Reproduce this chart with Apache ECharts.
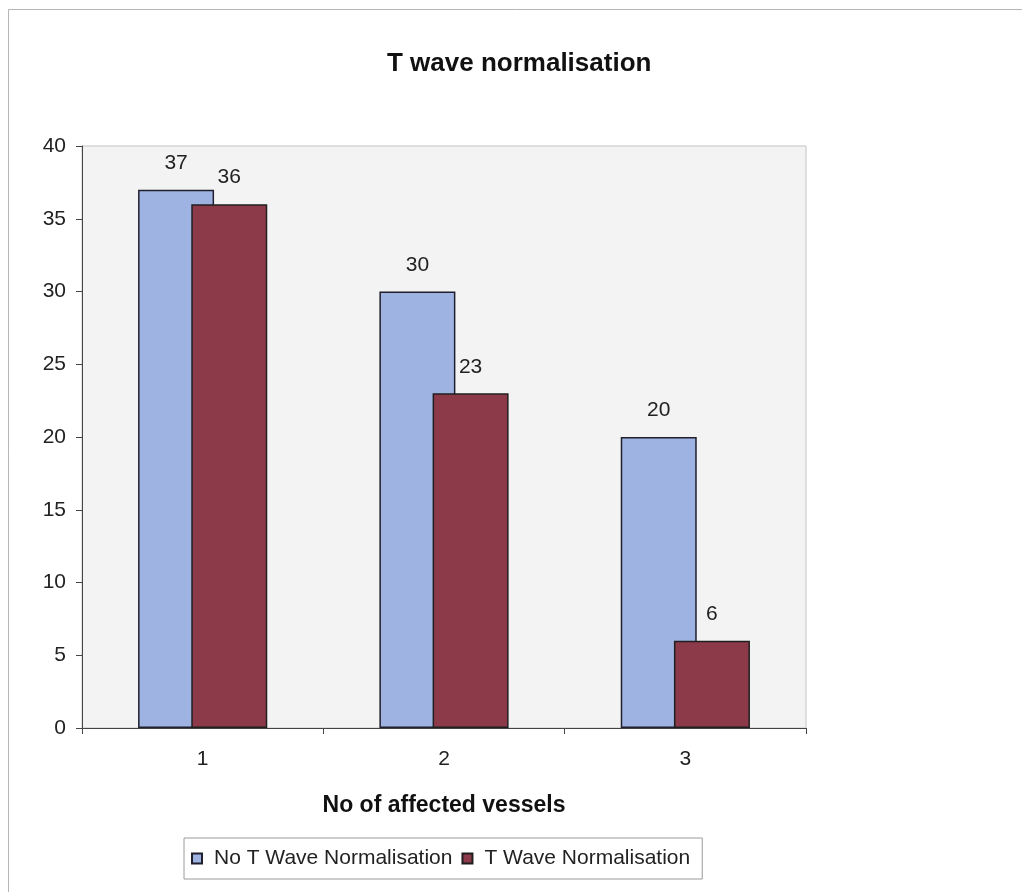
<!DOCTYPE html>
<html>
<head>
<meta charset="utf-8">
<title>T wave normalisation</title>
<script src="https://cdn.jsdelivr.net/npm/echarts@6/dist/echarts.min.js"></script>
<style>
  html, body { margin: 0; padding: 0; background: #ffffff; }
  #chart { width: 1022px; height: 892px; }
</style>
</head>
<body>
<div id="chart"></div>
<script>
// Number of affected vessels on the x axis
const categories = ['1', '2', '3'];
// Patient counts per group
const noNormalisation = [37, 30, 20];
const withNormalisation = [36, 23, 6];
const seriesNames = ['No T Wave Normalisation', 'T Wave Normalisation'];

const FONT = 'Arial, "Liberation Sans", sans-serif';
const chart = echarts.init(document.getElementById('chart'), null, { renderer: 'canvas' });

chart.setOption({
  backgroundColor: '#ffffff',
  animation: false,
  title: {
    text: 'T wave normalisation',
    left: 382,
    top: 46,
    textStyle: { fontFamily: FONT, fontSize: 26, fontWeight: 'bold', color: '#111' }
  },
  graphic: [
    { type: 'line', shape: { x1: 8.5, y1: 9.5, x2: 8.5, y2: 892 }, style: { stroke: '#b5b5b5', lineWidth: 1 } },
    { type: 'line', shape: { x1: 8.5, y1: 9.5, x2: 1022, y2: 9.5 }, style: { stroke: '#b5b5b5', lineWidth: 1 } }
  ],
  grid: {
    left: 82, right: 216, top: 146, bottom: 164,
    show: true,
    backgroundColor: '#f3f3f3',
    borderColor: '#c4c4c4',
    borderWidth: 1
  },
  legend: {
    left: 184,
    top: 838,
    orient: 'horizontal',
    itemWidth: 10,
    itemHeight: 10,
    itemGap: 9,
    padding: [10, 12, 10, 7],
    borderColor: '#9a9a9a',
    borderWidth: 1,
    backgroundColor: '#ffffff',
    icon: 'rect',
    textStyle: { fontFamily: FONT, fontSize: 21, color: '#222', padding: [0, 0, 0, 7] },
    data: seriesNames
  },
  xAxis: {
    type: 'category',
    data: categories,
    boundaryGap: true,
    name: 'No of affected vessels',
    nameLocation: 'middle',
    nameGap: 66,
    nameTextStyle: { fontFamily: FONT, fontSize: 23, fontWeight: 'bold', color: '#111' },
    axisLine: { lineStyle: { color: '#444', width: 1 } },
    axisTick: { show: true, alignWithLabel: false, length: 6, lineStyle: { color: '#444' } },
    axisLabel: { fontFamily: FONT, fontSize: 21, color: '#222', margin: 21 },
    splitLine: { show: false }
  },
  yAxis: {
    type: 'value',
    min: 0,
    max: 40,
    interval: 5,
    axisLine: { show: true, lineStyle: { color: '#444', width: 1 } },
    axisTick: { show: true, length: 6, lineStyle: { color: '#444' } },
    axisLabel: { fontFamily: FONT, fontSize: 21, color: '#222', margin: 16 },
    splitLine: { show: false }
  },
  series: [
    {
      name: seriesNames[0],
      type: 'bar',
      data: noNormalisation,
      barWidth: 76,
      barGap: '-30%',
      itemStyle: { color: '#9fb3e2', borderColor: '#1f1f2e', borderWidth: 1.5 },
      label: { show: true, position: 'top', distance: 16, fontFamily: FONT, fontSize: 21, color: '#222' }
    },
    {
      name: seriesNames[1],
      type: 'bar',
      data: withNormalisation,
      barWidth: 76,
      barGap: '-30%',
      itemStyle: { color: '#8c3a4a', borderColor: '#1f1f1f', borderWidth: 1.5 },
      label: { show: true, position: 'top', distance: 16, fontFamily: FONT, fontSize: 21, color: '#222' }
    }
  ]
});
</script>
</body>
</html>
